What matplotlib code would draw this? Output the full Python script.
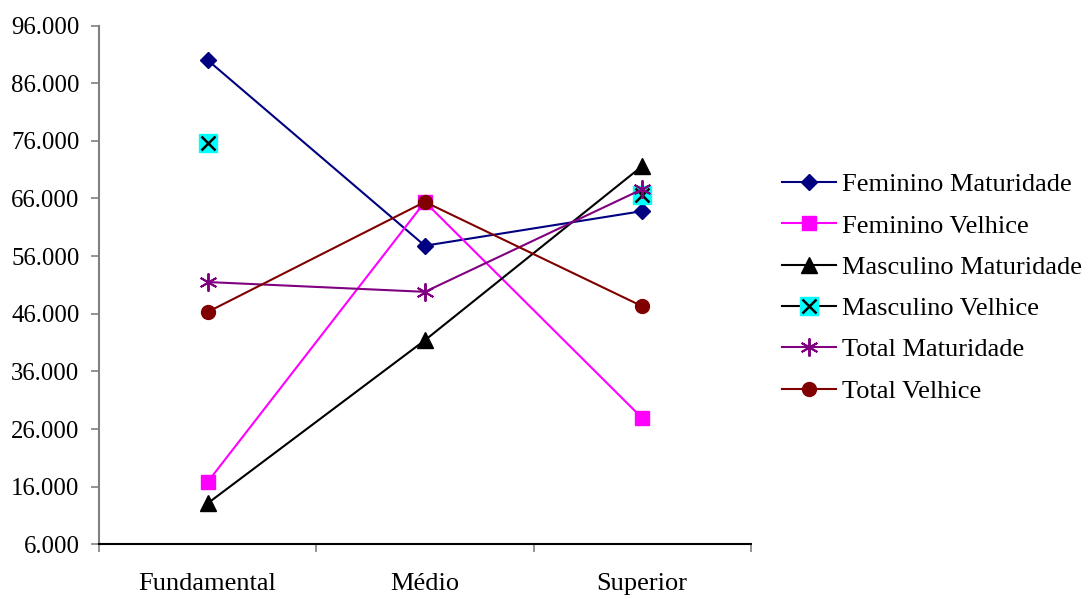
import numpy as np
import matplotlib
matplotlib.use("Agg")
import matplotlib.pyplot as plt
from matplotlib.legend_handler import HandlerTuple

plt.rcParams['font.family'] = ['Liberation Serif', 'DejaVu Serif']

categories = ["Fundamental", "Médio", "Superior"]
feminino_maturidade = [90.0, 57.8, 63.8]
feminino_velhice = [16.8, 65.4, 27.9]
masculino_maturidade = [13.1, 41.4, 71.6]
masculino_velhice = [75.6, np.nan, 66.6]
total_maturidade = [51.5, 49.8, 67.6]
total_velhice = [46.3, 65.4, 47.3]
y_ticks = [6, 16, 26, 36, 46, 56, 66, 76, 86, 96]

fig = plt.figure(figsize=(10.9, 5.99), dpi=100)
ax = fig.add_axes([0.0908, 0.0913, 0.598, 0.8661])

x = np.arange(len(categories))
lw = 1.5

h1, = ax.plot(x, feminino_maturidade, color="#000080", lw=lw, marker="D", ms=8,
              mfc="#000080", mec="#000080", label="Feminino Maturidade")
h2, = ax.plot(x, feminino_velhice, color="#FF00FF", lw=lw, marker="s", ms=10,
              mfc="#FF00FF", mec="#FF00FF", label="Feminino Velhice")
h3, = ax.plot(x, masculino_maturidade, color="black", lw=lw, marker="^", ms=11,
              mfc="black", mec="black", label="Masculino Maturidade")
h4a, = ax.plot(x, masculino_velhice, color="black", lw=lw, marker="s", ms=13,
               mfc="#00FFFF", mec="#00FFFF")
h4b, = ax.plot(x, masculino_velhice, color="black", lw=lw, marker="x", ms=10,
               mew=1.8, mec="black", linestyle="none")
h5, = ax.plot(x, total_maturidade, color="#800080", lw=lw, marker=(6, 2, 0), ms=13,
              mew=1.4, mec="#800080", label="Total Maturidade")
h6, = ax.plot(x, total_velhice, color="#800000", lw=lw, marker="o", ms=10,
              mfc="#800000", mec="#800000", label="Total Velhice")

ax.set_xlim(-0.5, 2.5)
ax.set_ylim(6, 96)
ax.set_yticks(y_ticks)
ax.set_yticklabels([f"{v}.000" for v in y_ticks])

ax.set_xticks([-0.5, 0.5, 1.5, 2.5])
ax.set_xticklabels([])
ax.set_xticks(x, minor=True)
ax.set_xticklabels(categories, minor=True)
ax.tick_params(axis="x", which="major", direction="out", length=6, width=1.2, color="#808080")
ax.tick_params(axis="x", which="minor", length=0, pad=21, labelsize=19)
ax.tick_params(axis="y", direction="out", length=6, width=1.2, color="#808080", pad=8, labelsize=17.8)

for s in ["top", "right"]:
    ax.spines[s].set_visible(False)
ax.spines["left"].set_color("#808080")
ax.spines["left"].set_linewidth(1.5)
ax.spines["bottom"].set_color("black")
ax.spines["bottom"].set_linewidth(1.5)

handles = [h1, h2, h3, (h4a, h4b), h5, h6]
labels = ["Feminino Maturidade", "Feminino Velhice", "Masculino Maturidade",
          "Masculino Velhice", "Total Maturidade", "Total Velhice"]
fig.legend(handles, labels, loc="center left", bbox_to_anchor=(0.717, 0.5195),
           frameon=False, fontsize=19, handlelength=2.05, handletextpad=0.26,
           labelspacing=0.675, borderpad=0, borderaxespad=0,
           handler_map={tuple: HandlerTuple(ndivide=1, pad=0)})

fig.savefig("out.png", dpi=100, facecolor="white")
